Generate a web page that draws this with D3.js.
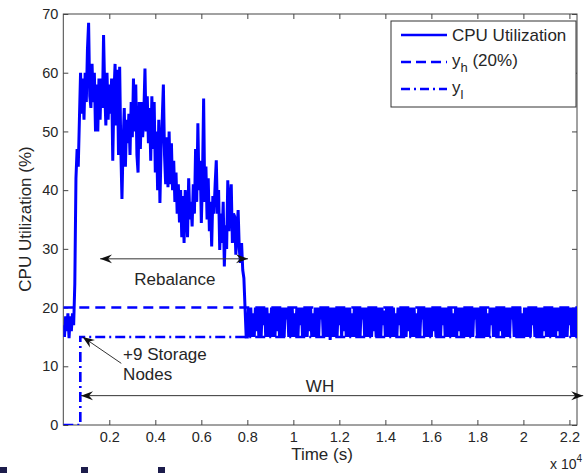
<!DOCTYPE html>
<html>
<head>
<meta charset="utf-8">
<script src="https://cdn.jsdelivr.net/npm/d3@7"></script>
<style>
body { margin: 0; background: #fff; }
svg { display: block; font-family: "Liberation Sans", Arial, sans-serif; }
</style>
</head>
<body>
<div id="chart"></div>
<script>
// samples every 50 s
var sampleStep = 50;

// t = 0 .. 500 s, before the new nodes join
var cpuIdle = [17, 15, 18.5, 16, 19, 14.8, 18.5, 16, 19, 17, 24];

// t = 550 .. 7950 s, rebalancing
var cpuRebalance = [
	42, 47, 44, 52, 60, 53, 59, 52, 60, 55, 64, 68.5, 56, 54, 61.5, 55, 60, 50, 58, 50,
	59, 52, 59, 54, 66.4, 57, 51, 60, 52, 58, 53, 59, 45, 56, 61.5, 51, 60.5, 46, 61, 47,
	38.5, 48, 54, 44, 52, 48, 53, 46, 55, 49, 59, 50, 58, 46, 43, 55, 47, 55, 49, 53,
	60.7, 50, 56, 48, 54, 45, 56, 47, 55, 43, 50, 40, 52, 37.8, 47, 52, 58, 46, 41, 49,
	40.5, 50, 41, 48, 40, 45, 38, 43, 36, 41, 34.5, 40, 32, 39, 31, 40, 38, 32, 42, 35,
	38, 33.8, 41, 36, 47, 38, 51.4, 40, 45, 34.4, 42, 55.6, 38, 44, 35, 42, 33, 38, 30.4, 39,
	36, 41, 45.1, 36, 40, 29.8, 36, 31, 38, 27, 34, 30, 41.7, 33, 38, 41, 31, 36, 35.5, 29,
	33, 36.6, 30, 27.6, 31, 26.4, 25, 20, 15
];

// t = 8000 .. 22350 s, after rebalance
var cpuSteady = [
	15, 20, 15, 20, 15, 19, 15, 20, 16, 20, 15, 20, 15, 20, 17, 20, 15, 20, 15, 19, 15, 20, 15, 20,
	15, 20, 16, 20, 15, 20, 15, 20, 15, 20, 18, 20, 15, 20, 15, 20, 15, 19, 15, 20, 15, 20, 17, 20,
	15, 20, 15, 20, 15, 20, 16, 20, 15, 19, 15, 20, 15, 20, 15, 20, 18, 20, 15, 20, 15, 20, 15, 20,
	14.5, 20, 15, 20, 15, 20, 15, 20, 17, 20, 15, 20, 16, 20, 15, 20, 15, 20, 15, 19, 15, 20, 15, 20,
	15, 20, 15, 20, 18, 20, 15, 20, 15, 20, 15, 20, 15, 20, 16, 20, 15, 20, 15, 20, 15, 20, 17, 19.5,
	15, 20, 15, 20, 15, 20, 15, 20, 15, 19, 15, 20, 17, 20, 15, 20, 15, 20, 15, 20, 16, 20, 15, 20,
	15, 20, 15, 19, 15, 20, 15, 20, 18, 20, 15, 20, 15, 20, 15, 20, 15, 20, 16, 20, 15, 20, 15, 20,
	15, 20, 17, 20, 15, 20, 15, 20, 15, 20, 15, 19, 15, 20, 15, 20, 16, 20, 15, 20, 15, 20, 15, 20,
	15, 20, 15, 20, 15, 20, 18, 20, 15, 20, 15, 20, 15, 20, 15, 20, 15, 19, 15, 20, 17, 20, 15, 20,
	15, 20, 15, 20, 16, 20, 15, 20, 15, 20, 15, 20, 15, 20, 18, 20, 15, 20, 15, 20, 15, 20, 15, 19,
	15, 20, 15, 20, 15, 20, 15, 20, 17, 20, 15, 20, 15, 20, 15, 20, 15, 20, 16, 20, 15, 20, 15, 20,
	15, 20, 15, 20, 15, 20, 16, 20, 15, 20, 15, 20, 15, 20, 15, 20, 17, 20, 15, 20, 15, 20, 15, 20
];

var yhLevel = 20;
// y_l threshold as [time, percent] steps
var ylSteps = [[0, 0], [740, 0], [740, 15], [22400, 15]];

var xTicks = [2000, 4000, 6000, 8000, 10000, 12000, 14000, 16000, 18000, 20000, 22000];
var yTicks = [0, 10, 20, 30, 40, 50, 60, 70];
var xMax = 22330;

// annotations, in data units
var rebalanceArrow = { t0: 1600, t1: 8030, v: 28.3 };
var whArrow = { t0: 770, t1: 22600, v: 5 };
var nodesArrow = { t0: 2520, v0: 10.5, t1: 840, v1: 15 };

(function() {
	var svg = d3
			.select("#chart")
			.append("svg")
			.attr("width", 585)
			.attr("height", 473)
			.style("background-color", "white"),
		left = 63.3,
		right = 577,
		top = 14,
		bottom = 425,
		blue = "#0000ff",
		ink = "#262626";

	var x = d3.scaleLinear().domain([0, xMax]).range([left, right]);
	var y = d3.scaleLinear().domain([0, 70]).range([bottom, top]);

	var cpu = cpuIdle.concat(cpuRebalance, cpuSteady);

	svg.append("defs")
		.append("clipPath")
		.attr("id", "plot")
		.append("rect")
		.attr("x", left)
		.attr("y", top)
		.attr("width", right - left)
		.attr("height", bottom - top);

	svg.append("defs")
		.append("marker")
		.attr("id", "head")
		.attr("viewBox", "-12 -5 13 10")
		.attr("refX", 0)
		.attr("refY", 0)
		.attr("markerWidth", 13)
		.attr("markerHeight", 10)
		.attr("markerUnits", "userSpaceOnUse")
		.attr("orient", "auto-start-reverse")
		.append("path")
		.attr("d", "M0,0 L-12,-4.5 L-8,0 L-12,4.5 Z")
		.attr("fill", "#111");

	// axes, ticks pointing inward on all four sides
	var fmt = function(d) { return d3.format("~g")(d / 1e4); };

	svg.append("g")
		.attr("transform", "translate(0," + bottom + ")")
		.call(d3.axisBottom(x).tickValues(xTicks).tickSizeInner(-5).tickSizeOuter(0).tickPadding(7).tickFormat(fmt));
	svg.append("g")
		.attr("transform", "translate(0," + top + ")")
		.call(d3.axisTop(x).tickValues(xTicks).tickSizeInner(-5).tickSizeOuter(0).tickFormat(""));
	svg.append("g")
		.attr("transform", "translate(" + left + ",0)")
		.call(d3.axisLeft(y).tickValues(yTicks).tickSizeInner(-5).tickSizeOuter(0).tickPadding(5));
	svg.append("g")
		.attr("transform", "translate(" + right + ",0)")
		.call(d3.axisRight(y).tickValues(yTicks).tickSizeInner(-5).tickSizeOuter(0).tickFormat(""));

	svg.selectAll(".domain").remove();
	svg.selectAll(".tick line").attr("stroke", "#444");
	svg.selectAll(".tick text")
		.attr("fill", ink)
		.style("font-size", "14.5px")
		.style("font-family", "Liberation Sans, Arial, sans-serif");

	svg.append("rect")
		.attr("x", left)
		.attr("y", top)
		.attr("width", right - left)
		.attr("height", bottom - top)
		.attr("fill", "none")
		.attr("stroke", "#444")
		.attr("stroke-width", 1);

	// series
	var line = d3.line()
		.x(function(d, i) { return x(i * sampleStep); })
		.y(function(d) { return y(d); });
	var pairLine = d3.line()
		.x(function(d) { return x(d[0]); })
		.y(function(d) { return y(d[1]); });

	var plot = svg.append("g").attr("clip-path", "url(#plot)");

	plot.append("path")
		.datum(cpu)
		.attr("fill", "none")
		.attr("stroke", blue)
		.attr("stroke-width", 3)
		.attr("d", line);

	plot.append("path")
		.datum([[0, yhLevel], [xMax, yhLevel]])
		.attr("fill", "none")
		.attr("stroke", blue)
		.attr("stroke-width", 2.6)
		.attr("stroke-dasharray", "10,6")
		.attr("d", pairLine);

	plot.append("path")
		.datum(ylSteps)
		.attr("fill", "none")
		.attr("stroke", blue)
		.attr("stroke-width", 2.6)
		.attr("stroke-dasharray", "10,4,2,4")
		.attr("d", pairLine);

	// annotations
	function arrow(x0, y0, x1, y1, both) {
		var p = svg.append("line")
			.attr("x1", x0).attr("y1", y0)
			.attr("x2", x1).attr("y2", y1)
			.attr("stroke", "#333")
			.attr("stroke-width", 1)
			.attr("marker-end", "url(#head)");
		if (both) p.attr("marker-start", "url(#head)");
	}

	arrow(x(rebalanceArrow.t0), y(rebalanceArrow.v), x(rebalanceArrow.t1), y(rebalanceArrow.v), true);
	arrow(x(whArrow.t0), y(whArrow.v), x(whArrow.t1), y(whArrow.v), true);
	arrow(x(nodesArrow.t0), y(nodesArrow.v0), x(nodesArrow.t1), y(nodesArrow.v1), false);

	var note = svg.append("g")
		.attr("fill", ink)
		.style("font-size", "17px");

	note.append("text")
		.attr("x", x(4850))
		.attr("y", y(23.8))
		.attr("text-anchor", "middle")
		.text("Rebalance");
	note.append("text")
		.attr("x", x(2600))
		.attr("y", y(11))
		.text("+9 Storage");
	note.append("text")
		.attr("x", x(2600))
		.attr("y", y(7.6))
		.text("Nodes");
	note.append("text")
		.attr("x", x(11160))
		.attr("y", y(5.6))
		.attr("text-anchor", "middle")
		.text("WH");

	// axis labels
	svg.append("text")
		.attr("x", 322)
		.attr("y", 460)
		.attr("text-anchor", "middle")
		.attr("fill", ink)
		.style("font-size", "17px")
		.text("Time (s)");

	var mult = svg.append("text")
		.attr("x", 550)
		.attr("y", 469)
		.attr("fill", ink)
		.style("font-size", "14px");
	mult.append("tspan").text("x 10");
	mult.append("tspan").attr("dy", -7).style("font-size", "10px").text("4");

	svg.append("text")
		.attr("transform", "translate(31,219) rotate(-90)")
		.attr("text-anchor", "middle")
		.attr("fill", ink)
		.style("font-size", "17px")
		.text("CPU Utilization (%)");

	// legend
	var lg = svg.append("g").attr("transform", "translate(391,21)");
	lg.append("rect")
		.attr("width", 185)
		.attr("height", 86)
		.attr("fill", "white")
		.attr("stroke", "#333");

	var legendRows = [
		{ dash: null, cy: 14 },
		{ dash: "10,5", cy: 41 },
		{ dash: "9,4,2,4", cy: 68 }
	];
	lg.selectAll("line.key")
		.data(legendRows)
		.enter()
		.append("line")
		.attr("x1", 10)
		.attr("x2", 56)
		.attr("y1", function(d) { return d.cy; })
		.attr("y2", function(d) { return d.cy; })
		.attr("stroke", blue)
		.attr("stroke-width", 2.6)
		.attr("stroke-dasharray", function(d) { return d.dash; });

	var lt = lg.append("g").attr("fill", ink).style("font-size", "17px");
	lt.append("text").attr("x", 61).attr("y", 20).text("CPU Utilization");
	var t2 = lt.append("text").attr("x", 61).attr("y", 45);
	t2.append("tspan").text("y");
	t2.append("tspan").attr("dy", 6).style("font-size", "13px").text("h");
	t2.append("tspan").attr("dy", -6).text(" (20%)");
	var t3 = lt.append("text").attr("x", 61).attr("y", 72);
	t3.append("tspan").text("y");
	t3.append("tspan").attr("dy", 6).style("font-size", "13px").text("l");

	// tops of cropped slide text at the bottom edge
	svg.append("g")
		.attr("fill", "#1c1c4c")
		.selectAll("rect")
		.data([0, 81, 158])
		.enter()
		.append("rect")
		.attr("x", function(d) { return d; })
		.attr("y", 467)
		.attr("width", 7)
		.attr("height", 6);
})();
</script>
</body>
</html>
